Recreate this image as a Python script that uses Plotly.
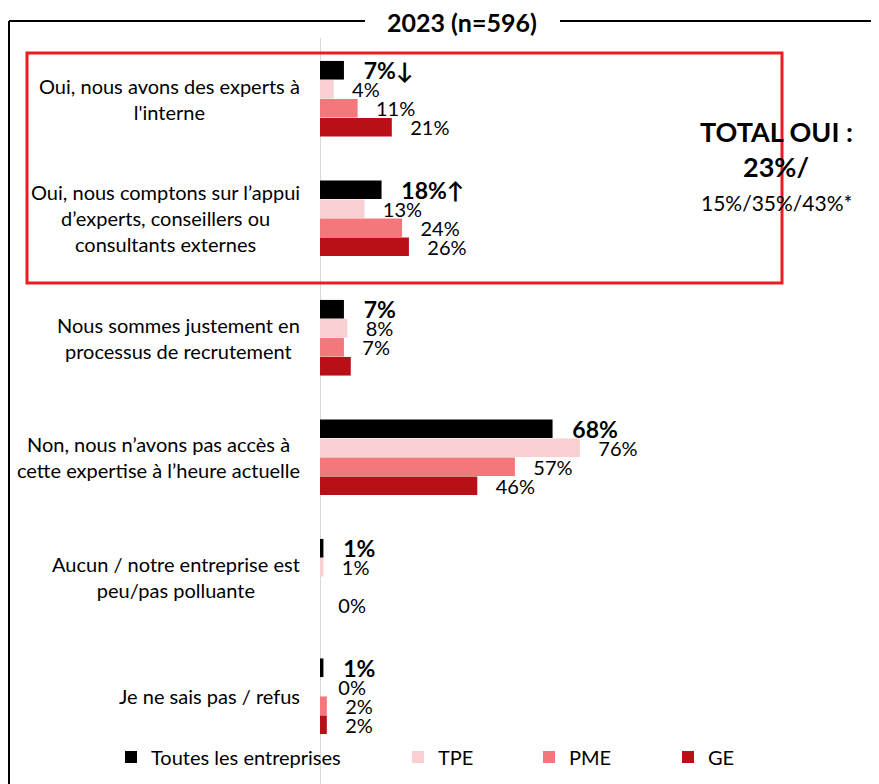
import plotly.graph_objects as go

# page body has an 8px margin, so the figure is slightly smaller than the window
OFF = 8
W, H = 879 - OFF, 784 - OFF

categories = [
    "Oui, nous avons des experts à<br>l'interne",
    "Oui, nous comptons sur l’appui<br>d’experts, conseillers ou<br>consultants externes",
    "Nous sommes justement en<br>processus de recrutement",
    "Non, nous n’avons pas accès à<br>cette expertise à l’heure actuelle",
    "Aucun / notre entreprise est<br>peu/pas polluante",
    "Je ne sais pas / refus",
]
cat_ids = ["c1", "c2", "c3", "c4", "c5", "c6"]

series_names = ["Toutes les entreprises", "TPE", "PME", "GE"]
series_colors = ["#000000", "#f9cfd2", "#f4777c", "#b90f17"]

toutes = [7, 18, 7, 68, 1, 1]
tpe = [4, 13, 8, 76, 1, 0]
pme = [11, 24, 7, 57, 0, 2]
ge = [21, 26, 9, 46, 0, 2]

toutes_lbl = ["7%↓", "18%↑", "7%", "68%", "1%", "1%"]
tpe_lbl = ["4%", "13%", "8%", "76%", "1%", "0%"]
pme_lbl = ["11%", "24%", "7%", "57%", "", "2%"]
ge_lbl = ["21%", "26%", "", "46%", "0%", "2%"]

values = [toutes, tpe, pme, ge]
labels = [toutes_lbl, tpe_lbl, pme_lbl, ge_lbl]

FONT = "Lato"

def px_x(p):
    return (p - OFF) / W

def px_y(p):
    return 1 - (p - OFF) / H

fig = go.Figure()

pad = "\u00a0" * 3
legend_ids = ["legend", "legend2", "legend3", "legend4"]
for i, name in enumerate(series_names):
    bold = i == 0
    fig.add_trace(go.Bar(
        y=cat_ids,
        x=values[i],
        orientation="h",
        name=name,
        marker=dict(color=series_colors[i], line=dict(width=0)),
        text=labels[i],
        texttemplate=pad + "%{text}",
        textposition="outside",
        constraintext="none",
        cliponaxis=False,
        textfont=dict(family=FONT, size=23 if bold else 20, color="black",
                      weight="bold" if bold else "normal"),
        legend=legend_ids[i],
    ))

# legends placed individually (text start positions in px)
legend_text_x = [151, 438, 569, 708]
layout_legends = {}
for i, lid in enumerate(legend_ids):
    layout_legends[lid] = dict(
        x=px_x(legend_text_x[i] - 40), y=px_y(757),
        xanchor="left", yanchor="middle",
        orientation="h", bgcolor="rgba(0,0,0,0)",
        font=dict(family=FONT, size=20, color="black"),
        itemwidth=30,
    )

fig.update_layout(
    width=W, height=H,
    margin=dict(l=0, r=0, t=0, b=0),
    plot_bgcolor="white", paper_bgcolor="white",
    barmode="group", bargap=0.364, bargroupgap=0.02,
    showlegend=True,
    font=dict(family=FONT, color="black"),
    xaxis=dict(domain=[px_x(320), px_x(662)], range=[0, 100],
               visible=False, fixedrange=True),
    yaxis=dict(domain=[px_y(756), px_y(39)], categoryorder="array",
               categoryarray=cat_ids, autorange="reversed",
               showticklabels=False, showgrid=False, zeroline=False),
    **layout_legends,
)

# category labels, right-aligned block with centered lines
for cid, text in zip(cat_ids, categories):
    fig.add_annotation(x=px_x(302), xref="paper", y=cid, yref="y",
                       text=text, showarrow=False, xanchor="right",
                       yanchor="middle", align="center",
                       font=dict(family=FONT, size=20, color="black"))

# zero line
fig.add_shape(type="line", xref="x", yref="paper", x0=0, x1=0,
              y0=0, y1=px_y(38), line=dict(color="#d9d9d9", width=2),
              layer="below")

# outer frame with title gap
frame = dict(color="black", width=2)
fig.add_shape(type="line", xref="paper", yref="paper", x0=px_x(9), x1=px_x(9),
              y0=0, y1=px_y(21), line=frame)
fig.add_shape(type="line", xref="paper", yref="paper", x0=px_x(9), x1=px_x(365),
              y0=px_y(21), y1=px_y(21), line=frame)
fig.add_shape(type="line", xref="paper", yref="paper", x0=px_x(560), x1=1,
              y0=px_y(21), y1=px_y(21), line=frame)
fig.add_annotation(x=px_x(462), y=px_y(22), xref="paper", yref="paper",
                   text="<b>2023 (n=596)</b>", showarrow=False,
                   xanchor="center", yanchor="middle",
                   font=dict(family=FONT, size=25, color="black"))

# red highlight box around the "Oui" answers
fig.add_shape(type="rect", xref="paper", yref="paper",
              x0=px_x(27), x1=px_x(782), y0=px_y(283), y1=px_y(53),
              line=dict(color="#ed1c24", width=3))

# total oui
fig.add_annotation(x=px_x(776), y=px_y(132), xref="paper", yref="paper",
                   text="<b>TOTAL OUI :</b>", showarrow=False,
                   xanchor="center", yanchor="middle",
                   font=dict(family=FONT, size=27, color="black"))
fig.add_annotation(x=px_x(776), y=px_y(167), xref="paper", yref="paper",
                   text="<b>23%/</b>", showarrow=False,
                   xanchor="center", yanchor="middle",
                   font=dict(family=FONT, size=27, color="black"))
fig.add_annotation(x=px_x(776), y=px_y(202), xref="paper", yref="paper",
                   text="15%/35%/43%*", showarrow=False,
                   xanchor="center", yanchor="middle",
                   font=dict(family=FONT, size=21, color="black"))

fig.write_html("out.html")
